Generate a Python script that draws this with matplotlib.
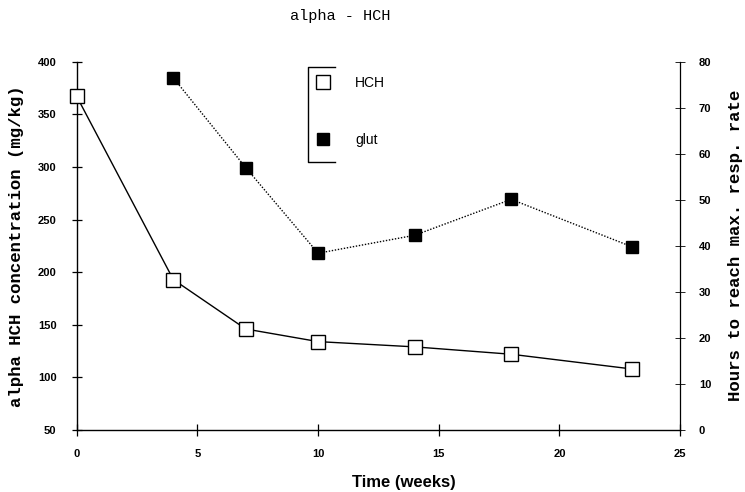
import matplotlib.pyplot as plt
from matplotlib.lines import Line2D

# data
weeks_hch = [0, 4, 7, 10, 14, 18, 23]
hch_conc = [367, 193, 146, 134, 129, 122, 108]

weeks_glut = [4, 7, 10, 14, 18, 23]
glut_hours = [76.5, 57, 38.4, 42.3, 50.1, 39.8]

x_ticks = [0, 5, 10, 15, 20, 25]
left_ticks = [50, 100, 150, 200, 250, 300, 350, 400]
right_ticks = [0, 10, 20, 30, 40, 50, 60, 70, 80]

mono = 'Liberation Mono'
sans = 'Liberation Sans'

fig = plt.figure(figsize=(7.45, 4.92), dpi=100)
ax = fig.add_axes([0.103, 0.126, 0.810, 0.7486])
ax2 = ax.twinx()

# HCH on left axis, solid line with open squares
ax.plot(weeks_hch, hch_conc, '-', color='black', lw=1.0, marker='s',
        markersize=9.5, markerfacecolor='white', markeredgecolor='black',
        markeredgewidth=1.0, label='HCH', zorder=3, clip_on=False)
# glut on right axis, dotted line with filled squares
ax2.plot(weeks_glut, glut_hours, linestyle=(0, (1, 1.2)), color='black', lw=1.0,
         marker='s', markersize=9, markerfacecolor='black',
         markeredgecolor='black', label='glut', zorder=3, clip_on=False)

ax.set_xlim(0, 25)
ax.set_ylim(50, 400)
ax2.set_ylim(0, 80)
ax.set_xticks(x_ticks)
ax.set_yticks(left_ticks)
ax2.set_yticks(right_ticks)

for s in ['top', 'right']:
    ax.spines[s].set_visible(False)
for s in ['top', 'left', 'bottom']:
    ax2.spines[s].set_visible(False)
ax.spines['left'].set_linewidth(1.0)
ax.spines['bottom'].set_linewidth(1.0)
ax2.spines['right'].set_linestyle((0, (1, 1)))
ax2.spines['right'].set_linewidth(0.9)

ax.tick_params(axis='y', direction='inout', length=7, width=0.9, pad=11)
ax.tick_params(axis='x', direction='inout', length=8, width=0.9, pad=10)
ax2.tick_params(axis='y', direction='inout', length=7, width=0.6, pad=10)

for lbl in ax.get_xticklabels() + ax.get_yticklabels() + ax2.get_yticklabels():
    lbl.set_fontfamily(sans)
    lbl.set_fontweight('bold')
    lbl.set_fontsize(8)

ax.set_ylabel('alpha HCH concentration (mg/kg)', fontfamily=mono,
              fontweight='bold', fontsize=12.5, labelpad=10)
ax2.set_ylabel('Hours to reach max. resp. rate', fontfamily=mono,
               fontweight='bold', fontsize=12.5, labelpad=12)
fig.text(404 / 745, 1 - 482 / 492, 'Time (weeks)', fontfamily=sans,
         fontweight='bold', fontsize=12, ha='center', va='center')
fig.text(340 / 745, 1 - 16 / 492, 'alpha - HCH', fontfamily=mono, fontsize=11,
         ha='center', va='center')

# legend with bracket-shaped border
h1, l1 = ax.get_legend_handles_labels()
h2, l2 = ax2.get_legend_handles_labels()
leg = fig.legend(h1 + h2, l1 + l2, loc='upper left',
                 bbox_to_anchor=(316 / 745, 1 - 76 / 492), frameon=False,
                 handlelength=1.0, handletextpad=1.8, labelspacing=3.1,
                 borderpad=0, borderaxespad=0,
                 prop={'family': sans, 'size': 10})
for h in leg.legend_handles:
    h.set_linestyle('None')

bx = [335 / 745, 308 / 745, 308 / 745, 335 / 745]
by = [1 - 67 / 492, 1 - 67 / 492, 1 - 162 / 492, 1 - 162 / 492]
fig.add_artist(Line2D(bx, by, color='black', lw=1.0, transform=fig.transFigure))

fig.savefig('out.png', dpi=100)
